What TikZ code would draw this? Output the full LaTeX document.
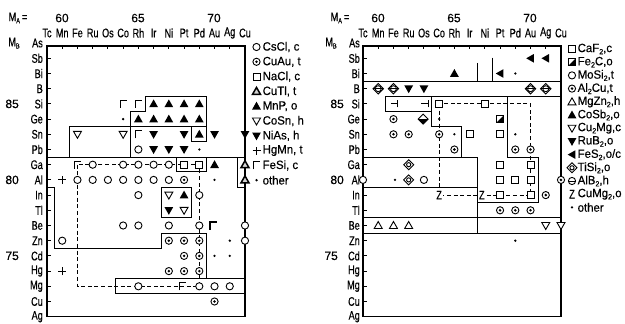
\documentclass[tikz,border=0pt]{standalone}
\usepackage{fontspec}
\setmainfont{Liberation Sans}[FakeBold=0.35]
\newfontfamily\lblfont[FakeStretch=0.73,FakeBold=0.4]{Liberation Sans}
\newfontfamily\legfont[FakeStretch=0.95,FakeBold=0.35]{Liberation Sans}
\newcommand\lsub[1]{\raisebox{-2.2pt}{\fontsize{7.5}{8}\selectfont #1}}
\newcommand\sy[3]{\pic at (#2,#3) {#1};}
\tikzset{
 lbl/.style={font=\lblfont\fontsize{12.5}{13}\selectfont, inner sep=0pt},
 num/.style={font=\fontsize{12}{13}\selectfont, inner sep=0pt},
 leg/.style={font=\legfont\fontsize{12}{13}\selectfont, inner sep=0pt, anchor=west},
 frm/.style={line width=1.2pt},
 bnd/.style={line width=1pt},
 dsh/.style={line width=1pt, dash pattern=on 4pt off 2.6pt},
 Lg/.style={shift={(47,43.1)},x=15.23pt,y=-15.2pt},
 Rg/.style={shift={(363,43.1)},x=15.23pt,y=-15.2pt},
 sym/.style={line width=0.9pt},
 pics/csc/.style={code={\draw[sym,fill=white] (0pt,0pt) circle[radius=3.6pt];}},
 pics/cua/.style={code={\draw[sym,fill=white] (0pt,0pt) circle[radius=3.6pt]; \fill (0pt,0pt) circle[radius=1.4pt];}},
 pics/sq/.style={code={\draw[sym,fill=white] (-3.5pt,-3.5pt) rectangle (3.5pt,3.5pt);}},
 pics/tuf/.style={code={\fill (0pt,4.5pt) -- (4.4pt,-3.3pt) -- (-4.4pt,-3.3pt) -- cycle;}},
 pics/tdf/.style={code={\fill (0pt,-4.5pt) -- (4.4pt,3.3pt) -- (-4.4pt,3.3pt) -- cycle;}},
 pics/tuo/.style={code={\draw[sym,fill=white] (0pt,4pt) -- (4pt,-3pt) -- (-4pt,-3pt) -- cycle;}},
 pics/tdo/.style={code={\draw[sym,fill=white] (0pt,-4pt) -- (4pt,3pt) -- (-4pt,3pt) -- cycle;}},
 pics/cutl/.style={code={\draw[line width=1.5pt,fill=gray!35] (0pt,4pt) -- (4pt,-3pt) -- (-4pt,-3pt) -- cycle;}},
 pics/tlf/.style={code={\fill (-4.3pt,0pt) -- (3.3pt,4.3pt) -- (3.3pt,-4.3pt) -- cycle;}},
 pics/plus/.style={code={\draw[line width=1.1pt] (-4pt,0pt) -- (4pt,0pt) (0pt,-4pt) -- (0pt,4pt);}},
 pics/fesi/.style={code={\draw[line width=1.1pt] (-3pt,-4pt) -- (-3pt,3.5pt) -- (3.5pt,3.5pt);}},
 pics/oth/.style={code={\fill (0pt,0pt) circle[radius=1.3pt];}},
 pics/fetc/.style={code={\fill (3.5pt,3.5pt) -- (3.5pt,-3.5pt) -- (-3.5pt,-3.5pt) -- cycle; \draw[sym] (-3.5pt,-3.5pt) rectangle (3.5pt,3.5pt);}},
 pics/tisi/.style={code={\draw[sym,fill=white] (0pt,5pt) -- (5pt,0pt) -- (0pt,-5pt) -- (-5pt,0pt) -- cycle; \draw[sym] (0pt,0pt) circle[radius=2.1pt];}},
 pics/alb/.style={code={\draw[sym,fill=white] (0pt,0pt) circle[radius=3.6pt]; \draw[sym] (-3.6pt,0pt) -- (3.6pt,0pt);}},
 pics/combo/.style={code={\draw[sym,fill=white] (0pt,5.2pt) -- (5.2pt,0pt) -- (0pt,-5.2pt) -- (-5.2pt,0pt) -- cycle; \draw[sym] (0pt,0pt) circle[radius=3pt]; \draw[sym] (-5.2pt,0pt) -- (5.2pt,0pt);}},
 pics/hdia/.style={code={\draw[sym,fill=white] (0pt,5pt) -- (5pt,0pt) -- (0pt,-5pt) -- (-5pt,0pt) -- cycle; \fill (-5pt,0pt) -- (5pt,0pt) -- (0pt,-5pt) -- cycle;}},
 pics/tck/.style={code={\draw[line width=1pt] (-4pt,0pt) -- (3pt,0pt) (3pt,-3.5pt) -- (3pt,3.5pt);}},
}
\begin{document}
\begin{tikzpicture}[x=1pt,y=-1pt]
\useasboundingbox (0,0) rectangle (625,324);
% ---------- left labels
\node[lbl] (lma) at (18,18) {M\lsub{A}\,=};
\node[num] (l60) at (62,18) {60};
\node[num] (l65) at (138,18) {65};
\node[num] (l70) at (214,18) {70};
\foreach \n [count=\i from 0] in {Tc,Mn,Fe,Ru,Os,Co,Rh,Ir,Ni,Pt,Pd,Au,Ag,Cu}
  \node[lbl] (lc\i) at ({47+15.23*\i},33) {\n};
\foreach \n [count=\i from 0] in {As,Sb,Bi,B,Si,Ge,Sn,Pb,Ga,Al,In,Tl,Be,Zn,Cd,Hg,Mg,Cu,Ag}
  \node[lbl,anchor=east] (lr\i) at (43,{43.1+15.2*\i}) {\n};
\node[lbl] (lmb) at (14,43.1) {M\lsub{B}};
\node[num,anchor=east] (l85) at (19,103.9) {85};
\node[num,anchor=east] (l80) at (19,179.9) {80};
\node[num,anchor=east] (l75) at (19,255.9) {75};
% ---------- right labels
\node[lbl] (rma) at (340,18) {M\lsub{A}\,=};
\node[num] (r60) at (378,18) {60};
\node[num] (r65) at (454,18) {65};
\node[num] (r70) at (530,18) {70};
\foreach \n [count=\i from 0] in {Tc,Mn,Fe,Ru,Os,Co,Rh,Ir,Ni,Pt,Pd,Au,Ag,Cu}
  \node[lbl] (rc\i) at ({363+15.23*\i},33) {\n};
\foreach \n [count=\i from 0] in {As,Sb,Bi,B,Si,Ge,Sn,Pb,Ga,Al,In,Tl,Be,Zn,Cd,Hg,Mg,Cu,Ag}
  \node[lbl,anchor=east] (rr\i) at (360,{43.1+15.2*\i}) {\n};
\node[lbl] (rmb) at (331,43.1) {M\lsub{B}};
\node[num,anchor=east] (r85) at (344,103.9) {85};
\node[num,anchor=east] (r80) at (344,179.9) {80};
\node[num,anchor=east] (r75) at (338,255.9) {75};
% ---------- left legend
\foreach \s/\t [count=\k from 0] in {csc/{CsCl, c},cua/{CuAu, t},sq/{NaCl, c},cutl/{CuTl, t},tuf/{MnP, o},tdo/{CoSn, h},tdf/{NiAs, h},plus/{HgMn, t},fesi/{FeSi, c},oth/{other}}
  {\pic at (256.5,{47+14.8*\k}) {\s};
   \node[leg] (ll\k) at (262.5,{47+14.8*\k}) {\t};}
% ---------- right legend
\pic at (572,49) {sq};    \node[leg] (rl0) at (577.5,49) {CaF\lsub{2},c};
\pic at (572,62.2) {fetc}; \node[leg] (rl1) at (577.5,62.2) {Fe\lsub{2}C,o};
\pic at (572,75.4) {csc};  \node[leg] (rl2) at (577.5,75.4) {MoSi\lsub{2},t};
\pic at (572,88.6) {cua};  \node[leg] (rl3) at (577.5,88.6) {Al\lsub{2}Cu,t};
\pic at (572,101.8) {tuo}; \node[leg] (rl4) at (577.5,101.8) {MgZn\lsub{2},h};
\pic at (572,115) {tuf};   \node[leg] (rl5) at (577.5,115) {CoSb\lsub{2},o};
\pic at (572,128.2) {tdo}; \node[leg] (rl6) at (577.5,128.2) {Cu\lsub{2}Mg,c};
\pic at (572,141.4) {tdf}; \node[leg] (rl7) at (577.5,141.4) {RuB\lsub{2},o};
\pic at (572,154.6) {tlf}; \node[leg] (rl8) at (577.5,154.6) {FeS\lsub{2},o/c};
\pic at (572,167.8) {tisi};\node[leg] (rl9) at (577.5,167.8) {TiSi\lsub{2},o};
\pic at (572,181) {alb};   \node[leg] (rl10) at (577.5,181) {AlB\lsub{2},h};
\node[lbl] (rlz) at (572,194.2) {Z}; \node[leg] (rl11) at (577.5,194.2) {CuMg\lsub{2},o};
\pic at (572,207.4) {oth}; \node[leg] (rl12) at (577.5,207.4) {other};
% ================= LEFT PANEL
\begin{scope}[Lg]
\draw[frm] (0,0.19) rectangle (13,18);
\foreach \c in {0,...,13} \draw[bnd] (\c,0.19) -- (\c,0.42);
\foreach \r in {1,...,17} \draw[bnd] (0,\r) -- (0.25,\r);
\draw[bnd] (0,7.5) -- (13,7.5);
\draw[bnd] (1.5,7.5) -- (1.5,5.5) -- (10.5,5.5);
\draw[bnd] (5.5,7.5) -- (5.5,4.5) -- (6.5,4.5) -- (6.5,3.5) -- (10.5,3.5) -- (10.5,6.5) -- (9.5,6.5) -- (9.5,5.5);
\draw[bnd] (12.5,7.5) -- (12.5,9.5) -- (13,9.5);
\draw[bnd] (8.5,7.5) rectangle (10.5,8.45);
\draw[bnd] (7.5,9.5) rectangle (9.5,11.5);
\draw[bnd] (0,9.5) -- (0.5,9.5) -- (0.5,13.5) -- (7.5,13.5) -- (7.5,12.5) -- (10.5,12.5) -- (10.5,15.5) -- (4.5,15.5) -- (4.5,16.5) -- (13,16.5);
\draw[bnd] (10.5,15.5) -- (13,15.5);
\draw[dsh] (2,8) rectangle (10,16);
% Si
\sy{fesi}{5}{4}\sy{fesi}{6}{4}\sy{tuf}{7}{4}\sy{tuf}{8}{4}\sy{tuf}{9}{4}\sy{tuf}{10}{4}
% Ge
\sy{oth}{5}{5}\sy{tuf}{6}{5}\sy{tuf}{7}{5}\sy{tuf}{8}{5}\sy{tuf}{9}{5}\sy{tuf}{10}{5}
% Sn
\sy{tdo}{2}{6}\sy{tdo}{5}{6}\sy{fesi}{6}{6}\sy{tdf}{7}{6}\sy{tdf}{9}{6}\sy{tuf}{10}{6}\sy{tdf}{11}{6}\sy{tdf}{13}{6}
% Pb
\sy{csc}{6}{7}\sy{tdf}{7}{7}\sy{tdf}{8}{7}\sy{tdf}{9}{7}\sy{oth}{10}{7}
% Ga
\sy{fesi}{2}{8}\sy{csc}{3}{8}\sy{csc}{5}{8}\sy{csc}{6}{8}\sy{csc}{7}{8}\sy{csc}{8}{8}\sy{sq}{9}{8}\sy{sq}{10}{8}\sy{tuf}{11}{8}\sy{cutl}{13}{8}
% Al
\sy{plus}{1}{9}\sy{csc}{2}{9}\sy{csc}{3}{9}\sy{csc}{4}{9}\sy{csc}{5}{9}\sy{csc}{6}{9}\sy{csc}{7}{9}\sy{csc}{8}{9}\sy{cua}{9}{9}\sy{oth}{11}{9}\sy{cutl}{13}{9}
% In, Tl
\sy{csc}{6}{10}\sy{tdo}{8}{10}\sy{tuf}{9}{10}\sy{csc}{10}{10}
\sy{tdf}{8}{11}\sy{tdo}{9}{11}
% Be
\sy{csc}{5}{12}\sy{csc}{6}{12}\sy{csc}{8}{12}\sy{csc}{10}{12}\sy{fesi}{10.9}{12}\sy{csc}{13}{12}
% Zn
\sy{csc}{1}{13}\sy{cua}{8}{13}\sy{cua}{9}{13}\sy{cua}{10}{13}\sy{oth}{12}{13}\sy{csc}{13}{13}
% Cd
\sy{cua}{9}{14}\sy{cua}{10}{14}\sy{oth}{11}{14}\sy{oth}{12}{14}
% Hg
\sy{plus}{1}{15}\sy{cua}{8}{15}\sy{cua}{9}{15}\sy{cua}{10}{15}
% Mg
\sy{csc}{6}{16}\sy{fesi}{8.9}{16}\sy{csc}{10}{16}\sy{csc}{11}{16}\sy{csc}{12}{16}
% Cu
\sy{cua}{11}{17}
\end{scope}
% ================= RIGHT PANEL
\begin{scope}[Rg]
\draw[frm] (0,0.19) rectangle (13,18);
\foreach \c in {0,...,13} \draw[bnd] (\c,0.19) -- (\c,0.42);
\foreach \r in {1,...,17} \draw[bnd] (0,\r) -- (0.25,\r);
\draw[bnd] (0,2.5) -- (13,2.5);
\draw[bnd] (7.5,1.3) -- (7.5,2.5);
\draw[bnd] (8.5,0.95) -- (8.5,2.5);
\draw[bnd] (4.5,4.5) -- (1.5,4.5) -- (1.5,3.5) -- (13,3.5);
\draw[bnd] (4.5,3.5) -- (4.5,5.5) -- (6.5,5.5) -- (6.5,7.5);
\draw[bnd] (0,7.5) -- (7.5,7.5);
\draw[bnd] (0,9.5) -- (7.5,9.5);
\draw[bnd] (7.5,7.5) -- (7.5,12.5);
\draw[bnd] (9.5,3.5) -- (9.5,7.5) -- (11.5,7.5) -- (11.5,10.5) -- (7.5,10.5);
\draw[bnd] (0,11.5) -- (13,11.5);
\draw[bnd] (0,12.5) -- (13,12.5);
\draw[dsh] (5,4) rectangle (11,10);
% Sb, Bi
\sy{tlf}{11}{1}\sy{tlf}{12}{1}
\sy{tuf}{6}{2}\sy{tlf}{9}{2}\sy{oth}{10}{2}
% B
\sy{combo}{1}{3}\sy{combo}{2}{3}\sy{tdf}{3}{3}\sy{tdf}{4}{3}\sy{combo}{11}{3}\sy{combo}{12}{3}
% Si
\sy{tck}{2.1}{4}\sy{tck}{4.1}{4}\sy{sq}{5}{4}\sy{sq}{8}{4}
% Ge
\sy{cua}{2}{5}\sy{hdia}{3.95}{5}\sy{oth}{5}{5}\sy{fetc}{9}{5}
% Sn
\sy{cua}{2}{6}\sy{cua}{3}{6}\sy{cua}{5}{6}\sy{oth}{6}{6}\sy{sq}{7}{6}\sy{sq}{9}{6}\sy{oth}{10}{6}
% Pb
\sy{cua}{6}{7}\sy{cua}{10}{7}\sy{cua}{11}{7}
% Ga
\sy{tisi}{3}{8}\sy{sq}{9}{8}\sy{sq}{11}{8}
% Al
\sy{csc}{0}{9}\sy{oth}{2.1}{9}\sy{tisi}{3}{9}\sy{csc}{4}{9}\sy{sq}{9}{9}\sy{sq}{10}{9}\sy{sq}{11}{9}\sy{cua}{13}{9}
% In
\node[lbl,fill=white,inner sep=0.6pt] (z1) at (5,10) {Z};
\node[lbl,fill=white,inner sep=0.6pt] (z2) at (7.8,10) {Z};
\sy{sq}{9}{10}\sy{sq}{11}{10}\sy{cua}{12}{10}
% Tl
\sy{cua}{9}{11}\sy{cua}{10}{11}\sy{cua}{11}{11}
% Be
\sy{tuo}{1}{12}\sy{tuo}{2}{12}\sy{tuo}{3}{12}\sy{tdo}{12}{12}\sy{tdo}{13}{12}
% Zn
\sy{oth}{10}{13}
\end{scope}
\end{tikzpicture}
\end{document}
